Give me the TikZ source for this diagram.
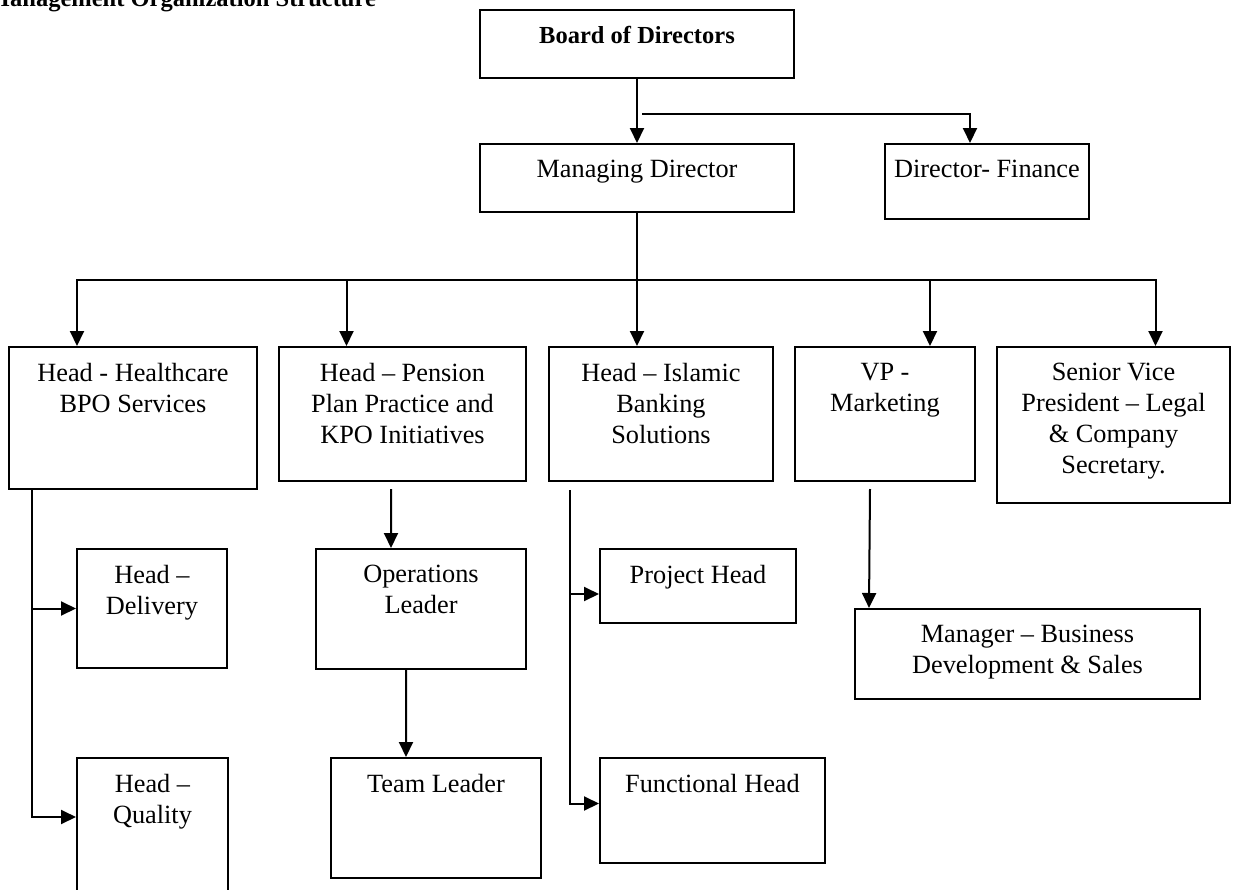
\documentclass[tikz,border=0pt]{standalone}
\usepackage{fontspec}
\setmainfont{Liberation Serif}
\usetikzlibrary{arrows.meta}

\begin{document}
\begin{tikzpicture}[x=1bp, y=-1bp, line width=2bp, >={Triangle[length=15bp,width=14bp]},
        unit/.style args={#1/#2}{draw, rectangle, anchor=north west, inner sep=0pt,
            minimum width=#1bp, minimum height=#2bp},
        caption/.style={anchor=north, yshift=-16bp, inner sep=0pt, align=center,
            font=\fontsize{26.4}{31}\selectfont}]
    \useasboundingbox (0,0) rectangle (1233,890);
    \node[anchor=base west, inner sep=0pt, font=\fontsize{24.6}{29}\selectfont\bfseries]
        (title) at (-14,6) {Management Organization Structure};

    % top level
    \node[unit=314/68, label={[caption, font=\fontsize{24.6}{29}\selectfont\bfseries]90:{Board of Directors}}] (board) at (479,9) {};
    \node[unit=314/68, label={[caption]90:{Managing Director}}] (md) at (479,143) {};
    \node[unit=204/75, label={[caption]90:{Director- Finance}}] (df) at (884,143) {};

    % heads
    \node[unit=248/142, label={[caption]90:{Head - Healthcare\\BPO Services}}] (hc) at (8,346) {};
    \node[unit=247/134, label={[caption]90:{Head – Pension\\Plan Practice and\\KPO Initiatives}}] (pp) at (278,346) {};
    \node[unit=224/134, label={[caption]90:{Head – Islamic\\Banking\\Solutions}}] (ib) at (548,346) {};
    \node[unit=180/134, label={[caption]90:{VP -\\Marketing}}] (vp) at (794,346) {};
    \node[unit=233/156, label={[caption]90:{Senior Vice\\President – Legal\\\& Company\\Secretary.}}] (svp) at (996,346) {};

    % lower level
    \node[unit=150/119, label={[caption]90:{Head –\\Delivery}}] (dl) at (76,548) {};
    \node[unit=151/150, label={[caption]90:{Head –\\Quality}}] (ql) at (76,757) {};
    \node[unit=210/120, label={[caption]90:{Operations\\Leader}}] (ops) at (315,548) {};
    \node[unit=210/120, label={[caption]90:{Team Leader}}] (tl) at (330,757) {};
    \node[unit=196/74, label={[caption]90:{Project Head}}] (pj) at (599,548) {};
    \node[unit=225/105, label={[caption]90:{Functional Head}}] (fh) at (599,757) {};
    \node[unit=345/90, label={[caption]90:{Manager – Business\\Development \& Sales}}] (mg) at (854,608) {};

    % connectors
    \draw[->] (board) -- (md);
    \coordinate (tap) at (642,114);
    \draw[->] (tap) -| ([xshift=-17bp]df.north);

    \path (md.south) ++(0,67) coordinate (bus);
    \draw (md) -- (bus);
    \draw[->] (bus) -| ([xshift=-56bp]hc.north);
    \draw[->] (bus) -| ([xshift=-56bp]pp.north);
    \draw[->] (bus) -- (bus |- ib.north);
    \draw[->] (bus) -| ([xshift=45bp]vp.north);
    \draw[->] (bus) -| ([xshift=42bp]svp.north);

    \draw[->] ([xshift=24bp]hc.south west) |- (dl.west);
    \draw[->] ([xshift=24bp]hc.south west) |- ([yshift=-60bp]ql.north west);

    \draw[->] ([xshift=-11.5bp,yshift=-7bp]pp.south) -- ([xshift=-30bp]ops.north);
    \draw[->] ([xshift=-15bp]ops.south) -- ([xshift=-30bp]tl.north);

    \draw[->] ([xshift=22bp,yshift=-8bp]ib.south west) |- ([yshift=-8bp]pj.west);
    \draw[->] ([xshift=22bp,yshift=-8bp]ib.south west) |- ([yshift=7bp]fh.west);

    \draw[->] ([xshift=-15bp,yshift=-7bp]vp.south) -- ([xshift=15bp]mg.north west);
\end{tikzpicture}
\end{document}
